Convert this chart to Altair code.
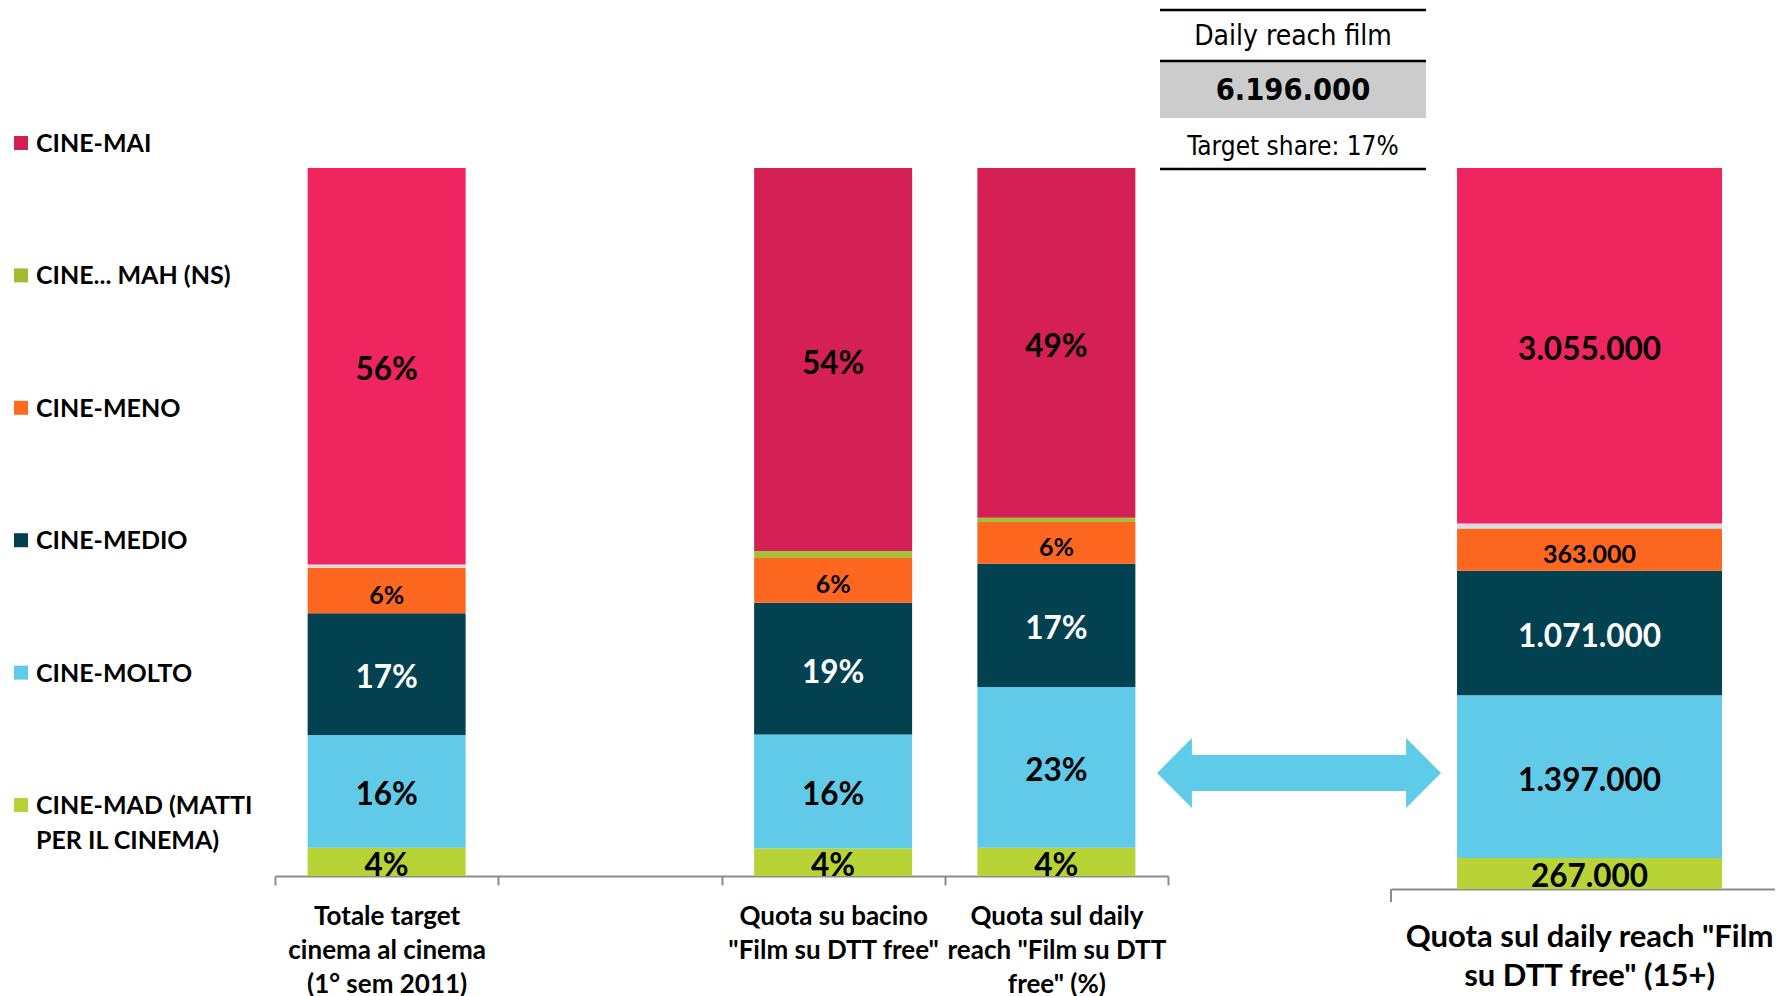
import json
import altair as alt
import pandas as pd

# ---------------- data ----------------
seg_keys = ["MAD", "MOLTO", "MEDIO", "MENO", "MAH", "MAI"]  # bottom -> top

pct_categories = [
    "Totale target cinema al cinema (1° sem 2011)",
    " ",
    "Quota su bacino \"Film su DTT free\"",
    "Quota sul daily reach \"Film su DTT free\" (%)",
]
pct_label_lines = [
    ["Totale target", "cinema al cinema", "(1° sem 2011)"],
    [""],
    ["Quota su bacino", "\"Film su DTT free\""],
    ["Quota sul daily", "reach \"Film su DTT", "free\" (%)"],
]
totale_pct = [4.0, 15.9, 17.2, 6.4, 0.5, 56.0]
bacino_pct = [3.9, 16.1, 18.6, 6.3, 1.0, 54.1]
daily_pct = [4.0, 22.7, 17.4, 5.9, 0.6, 49.4]

abs_category = "Quota sul daily reach \"Film su DTT free\" (15+)"
abs_label_lines = ["Quota sul daily reach \"Film", "su DTT free\" (15+)"]
daily_abs = [267000, 1397000, 1071000, 363000, 43000, 3055000]

table_title = "Daily reach film"
table_total = "6.196.000"
table_share = "Target share: 17%"

legend_labels = ["CINE-MAI", "CINE... MAH (NS)", "CINE-MENO", "CINE-MEDIO",
                 "CINE-MOLTO", "CINE-MAD (MATTI\nPER IL CINEMA)"]
legend_colors = ["#D41F54", "#A3BC2F", "#FF6A21", "#02404F", "#5FCBE8", "#B5D334"]

colors_dark = {"MAD": "#B7D335", "MOLTO": "#60CAE8", "MEDIO": "#024150",
               "MENO": "#FD671F", "MAH": "#A5BF36", "MAI": "#D42055"}
colors_bright = dict(colors_dark, MAH="#DCDCDC", MAI="#EF2560")

FONT = "Lato"
TFONT = "DejaVu Sans Condensed, DejaVu Sans"
AXIS_GREY = "#8C8C8C"


def seg_rows(cat, values, palette, fmt):
    rows = []
    for i, (k, v) in enumerate(zip(seg_keys, values)):
        rows.append({
            "cat": cat, "seg": k, "ord": i, "value": v, "color": palette[k],
            "label": "" if k == "MAH" else fmt(v),
            "tcol": "#FFFFFF" if k == "MEDIO" else "#000000",
            "fs": 25 if k == "MENO" else 31.5,
        })
    return rows


pct_fmt = lambda v: f"{round(v):d}%"
abs_fmt = lambda v: f"{v:,}".replace(",", ".")

pct_df = pd.DataFrame(
    seg_rows(pct_categories[0], totale_pct, colors_bright, pct_fmt)
    + seg_rows(pct_categories[2], bacino_pct, colors_dark, pct_fmt)
    + seg_rows(pct_categories[3], daily_pct, colors_dark, pct_fmt)
)
abs_df = pd.DataFrame(seg_rows(abs_category, daily_abs, colors_bright, abs_fmt))


def label_expr(keys, lines):
    expr = "''"
    for k, ls in reversed(list(zip(keys, lines))):
        expr = f"datum.value == {json.dumps(k, ensure_ascii=False)} ? {json.dumps(ls, ensure_ascii=False)} : {expr}"
    return expr


# ---------------- main (percent) panel ----------------
W_MAIN, H_MAIN = 893, 708
x_main = alt.X(
    "cat:N",
    scale=alt.Scale(domain=pct_categories, paddingInner=0, paddingOuter=0),
    axis=alt.Axis(
        title=None, labelExpr=label_expr(pct_categories, pct_label_lines),
        labelAngle=0, labelFont=FONT, labelFontWeight="bold", labelFontSize=26,
        labelColor="black", labelLineHeight=34, labelPadding=18, labelLimit=400,
        labelAlign="center", labelBaseline="top",
        domainColor=AXIS_GREY, domainWidth=2, tickColor=AXIS_GREY, tickWidth=2,
        tickSize=9, tickBand="extent",
    ),
)
base_pct = alt.Chart(pct_df).transform_stack(
    stack="value", as_=["y0", "y1"], groupby=["cat"], sort=[alt.SortField("ord")]
)
y_main = alt.Y("y0:Q", scale=alt.Scale(domain=[0, 100], nice=False), axis=None)
bars_pct = base_pct.mark_bar(strokeWidth=0, width=158).encode(
    x=x_main, y=y_main, y2="y1:Q", color=alt.Color("color:N", scale=None)
)
text_pct = base_pct.transform_filter("datum.label != ''").transform_calculate(
    mid="(datum.y0 + datum.y1) / 2"
).mark_text(font=FONT, fontWeight="bold", baseline="middle", dy=5).encode(
    x="cat:N", y=alt.Y("mid:Q", scale=alt.Scale(domain=[0, 100], nice=False)),
    text="label:N", color=alt.Color("tcol:N", scale=None),
    size=alt.Size("fs:Q", scale=None),
)
main = alt.layer(bars_pct, text_pct).properties(width=W_MAIN, height=H_MAIN)

# ---------------- right (absolute) panel ----------------
W_R, H_R = 384, 721
x_r = alt.X(
    "cat:N",
    scale=alt.Scale(domain=[abs_category], paddingInner=0, paddingOuter=0.2245, align=0.555),
    axis=alt.Axis(
        title=None, labelExpr=label_expr([abs_category], [abs_label_lines]),
        labelAngle=0, labelFont=FONT, labelFontWeight="bold", labelFontSize=31,
        labelColor="black", labelLineHeight=39, labelPadding=33, labelLimit=500,
        labelAlign="center", labelBaseline="top",
        domainColor=AXIS_GREY, domainWidth=2, ticks=False,
    ),
)
base_abs = alt.Chart(abs_df).transform_stack(
    stack="value", as_=["y0", "y1"], groupby=["cat"], sort=[alt.SortField("ord")]
)
y_r = alt.Y("y0:Q", scale=alt.Scale(domain=[0, sum(daily_abs)], nice=False), axis=None)
bars_abs = base_abs.mark_bar(strokeWidth=0).encode(
    x=x_r, y=y_r, y2="y1:Q", color=alt.Color("color:N", scale=None)
)
text_abs = base_abs.transform_filter("datum.label != ''").transform_calculate(
    mid="(datum.y0 + datum.y1) / 2"
).mark_text(font=FONT, fontWeight="bold", baseline="middle", dy=5).encode(
    x="cat:N", y=alt.Y("mid:Q", scale=alt.Scale(domain=[0, sum(daily_abs)], nice=False)),
    text="label:N", color=alt.Color("tcol:N", scale=None),
    size=alt.Size("fs:Q", scale=None),
)
tick_r = alt.Chart(abs_df).transform_filter("datum.ord == 0").mark_rule(
    color=AXIS_GREY, strokeWidth=2
).encode(x=alt.value(0), y=alt.value(H_R), y2=alt.value(H_R + 13))
right = alt.layer(bars_abs, text_abs, tick_r).properties(width=W_R, height=H_R)

# ---------------- legend panel ----------------
leg_df = pd.DataFrame({"label": legend_labels, "color": legend_colors,
                       "idx": list(range(len(legend_labels)))})
leg_y = alt.Y("idx:Q", scale=alt.Scale(domain=[0.189, 5.536], reverse=True,
                                        nice=False, zero=False), axis=None)
leg_sq = alt.Chart(leg_df).mark_point(shape="square", filled=True, size=196,
                                      opacity=1, strokeWidth=0).encode(
    x=alt.value(13), y=leg_y, color=alt.Color("color:N", scale=None)
)
leg_tx = alt.Chart(leg_df).mark_text(
    align="left", baseline="alphabetic", dy=9, font=FONT, fontWeight="bold",
    fontSize=25, lineBreak="\n", lineHeight=35, color="black"
).encode(x=alt.value(28), y=leg_y, text="label:N")
legend = alt.layer(leg_sq, leg_tx).properties(width=267, height=H_MAIN)

# ---------------- middle panel: table + arrow ----------------
tbl_df = pd.DataFrame({"title": [table_title], "total": [table_total], "share": [table_share]})
bt = alt.Chart(tbl_df)
grey_box = bt.mark_rect(color="#CCCCCC").encode(
    x=alt.value(-8), x2=alt.value(258), y=alt.value(-106), y2=alt.value(-50))
rules = [
    bt.mark_rule(color="black", strokeWidth=2.5).encode(
        x=alt.value(-8), x2=alt.value(258), y=alt.value(yy))
    for yy in (-158, -107, 1)
]
t_title = bt.mark_text(font=TFONT, fontSize=28, baseline="middle", color="black").encode(
    x=alt.value(125), y=alt.value(-131), text="title:N")
t_total = bt.mark_text(font=TFONT, fontSize=30.5, fontWeight="bold", baseline="middle",
                       color="black").encode(x=alt.value(125), y=alt.value(-77), text="total:N")
t_share = bt.mark_text(font=TFONT, fontSize=26, baseline="middle", color="black").encode(
    x=alt.value(125), y=alt.value(-21), text="share:N")
ARROW = ("M -1 0 L -0.754 -0.246 L -0.754 -0.127 L 0.754 -0.127 L 0.754 -0.246 "
         "L 1 0 L 0.754 0.246 L 0.754 0.127 L -0.754 0.127 L -0.754 0.246 Z")
arrow = bt.mark_point(shape=ARROW, filled=True, size=284 ** 2, color="#5ECBE9",
                      opacity=1, strokeWidth=0).encode(x=alt.value(131), y=alt.value(605))
middle = alt.layer(grey_box, *rules, t_title, t_total, t_share, arrow).properties(
    width=223, height=H_MAIN)

chart = alt.hconcat(legend, main, middle, right, spacing=0, bounds="flush").properties(
    padding=0, background="white"
).configure_view(strokeWidth=0)

chart.save("out.html", embed_options={"renderer": "svg", "actions": False})
